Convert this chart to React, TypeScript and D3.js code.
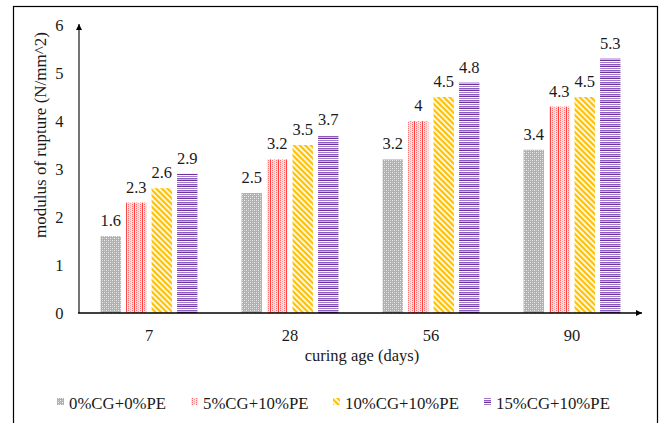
import React from 'react';
import * as d3 from 'd3';

const categories = ['7', '28', '56', '90'];
const seriesNames = ['0%CG+0%PE', '5%CG+10%PE', '10%CG+10%PE', '15%CG+10%PE'];
const s0 = [1.6, 2.5, 3.2, 3.4];
const s1 = [2.3, 3.2, 4, 4.3];
const s2 = [2.6, 3.5, 4.5, 4.5];
const s3 = [2.9, 3.7, 4.8, 5.3];
const seriesValues = [s0, s1, s2, s3];
const yTicks = [0, 1, 2, 3, 4, 5, 6];
const legendX = [57, 191, 333, 484];

const W = 663;
const H = 423;
const FONT = "'Liberation Serif', 'Times New Roman', serif";

export default function App() {
  const x0 = d3.scaleBand<string>().domain(categories).range([78.5, 642.5]);
  const groupW = 102;
  const x1 = d3
    .scaleBand<string>()
    .domain(seriesNames)
    .range([0, groupW])
    .paddingInner(0.2)
    .paddingOuter(0.1);
  const y = d3.scaleLinear().domain([0, 6]).range([313, 25]);
  const fmt = (v: number) => String(v);
  const groupOffset = (x0.bandwidth() - groupW) / 2;

  return (
    <div style={{ position: 'absolute', left: 0, top: 0 }}>
      <svg width={W} height={H} style={{ display: 'block' }} fontFamily={FONT}>
        <defs>
          <pattern id="p0" width="4" height="4" patternUnits="userSpaceOnUse">
            <rect width="4" height="4" fill="#b0b0b0" />
            <rect x="0" y="0" width="1" height="1" fill="#f2f2f2" />
            <rect x="2" y="2" width="1" height="1" fill="#f2f2f2" />
            <rect x="2" y="0" width="1" height="1" fill="#d0d0d0" />
            <rect x="0" y="2" width="1" height="1" fill="#d0d0d0" />
          </pattern>
          <pattern id="p1" width="8" height="2" patternUnits="userSpaceOnUse">
            <rect width="8" height="2" fill="#ffe0e0" />
            <rect x="0" y="0" width="1" height="1" fill="#ff6b6b" />
            <rect x="2" y="1" width="1" height="1" fill="#ff9a9a" />
            <rect x="4" y="0" width="1" height="1" fill="#ff6b6b" />
            <rect x="6" y="0" width="1" height="2" fill="#ff4040" />
          </pattern>
          <pattern id="p2" width="4" height="4" patternUnits="userSpaceOnUse" patternTransform="rotate(-45)">
            <rect width="4" height="4" fill="#ffffff" />
            <rect x="0" y="0" width="2.3" height="4" fill="#ffc000" />
          </pattern>
          <pattern id="p3" width="4" height="6" patternUnits="userSpaceOnUse">
            <rect width="4" height="6" fill="#ffffff" />
            <rect x="0" y="0" width="4" height="1" fill="#7030a0" />
            <rect x="0" y="2" width="4" height="1" fill="#9e7cc6" />
            <rect x="0" y="4" width="4" height="1" fill="#8a5cbc" />
            <rect x="0" y="5" width="4" height="1" fill="#cdb8e6" />
          </pattern>
          <marker id="arrow" viewBox="0 0 10 10" refX="10" refY="5" markerWidth="9" markerHeight="6" markerUnits="userSpaceOnUse" orient="auto">
            <path d="M0,0 L10,5 L0,10 Z" fill="#000" />
          </marker>
        </defs>

        <rect x={13.5} y={6.5} width={644} height={430} fill="#fff" stroke="#000" strokeWidth={1.2} />

        {categories.map((c, ci) => (
          <g key={c}>
            {seriesNames.map((s, si) => {
              const v = seriesValues[si][ci];
              const bx = (x0(c) as number) + groupOffset + (x1(s) as number);
              const bw = x1.bandwidth();
              return (
                <g key={s}>
                  <rect x={bx} y={y(v)} width={bw} height={y(0) - y(v)} fill={`url(#p${si})`} />
                  <text x={bx + bw / 2} y={y(v) - 10} textAnchor="middle" fontSize={16.5} fill="#1a1a1a">
                    {fmt(v)}
                  </text>
                </g>
              );
            })}
            <text x={(x0(c) as number) + x0.bandwidth() / 2} y={341} textAnchor="middle" fontSize={16.5} fill="#1a1a1a">
              {c}
            </text>
          </g>
        ))}

        <line x1={79} y1={y(0)} x2={79} y2={24} stroke="#000" strokeWidth={1.1} markerEnd="url(#arrow)" />
        <line x1={78} y1={y(0)} x2={642} y2={y(0)} stroke="#000" strokeWidth={1.4} markerEnd="url(#arrow)" />

        {yTicks.map((t) => (
          <text key={t} x={63.5} y={y(t) + 5.5} textAnchor="end" fontSize={16.5} fill="#1a1a1a">
            {t}
          </text>
        ))}

        <text
          transform={`translate(46, ${135}) rotate(-90)`}
          textAnchor="middle"
          fontSize={17}
          fill="#1a1a1a"
        >
          modulus of rupture (N/mm^2)
        </text>
        <text x={362} y={361} textAnchor="middle" fontSize={16.5} fill="#1a1a1a">
          curing age (days)
        </text>

        {seriesNames.map((s, si) => (
          <g key={s}>
            <rect x={legendX[si]} y={398} width={7} height={7} fill={`url(#p${si})`} />
            <text x={legendX[si] + 12} y={408.5} fontSize={16.8} fill="#1a1a1a">
              {s}
            </text>
          </g>
        ))}
      </svg>
    </div>
  );
}
